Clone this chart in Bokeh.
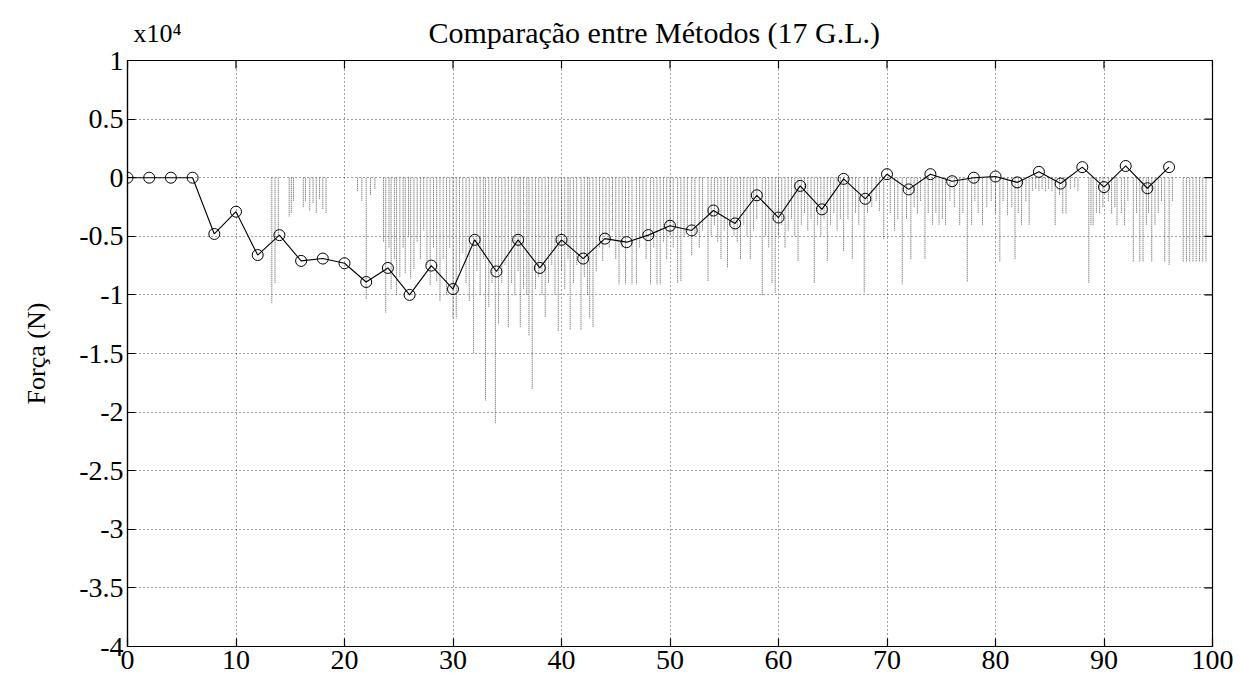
import math
from bokeh.plotting import figure
from bokeh.models import Range1d, FixedTicker, CustomJSTickFormatter, Label
from bokeh.embed import file_html
from bokeh.resources import INLINE

title_text = "Comparação entre Métodos (17 G.L.)"
y_label = "Força (N)"
exp_label = "x10⁴"

x_ticks = [0, 10, 20, 30, 40, 50, 60, 70, 80, 90, 100]
y_ticks = [-4, -3.5, -3, -2.5, -2, -1.5, -1, -0.5, 0, 0.5, 1]

# Method 1 (circles, solid line), values in units of 10^4 N
method_x = [0, 2, 4, 6, 8, 10, 12, 14, 16, 18, 20, 22, 24, 26, 28, 30, 32, 34, 36, 38,
            40, 42, 44, 46, 48, 50, 52, 54, 56, 58, 60, 62, 64, 66, 68, 70, 72, 74, 76, 78,
            80, 82, 84, 86, 88, 90, 92, 94, 96]
method_y = [0, 0, 0, 0, -0.48, -0.29, -0.66, -0.49, -0.71, -0.69, -0.73, -0.89, -0.77, -1.00,
            -0.75, -0.95, -0.53, -0.80, -0.53, -0.77, -0.53, -0.69, -0.52, -0.55, -0.49, -0.41,
            -0.45, -0.28, -0.39, -0.15, -0.34, -0.07, -0.27, -0.01, -0.18, 0.03, -0.10, 0.03,
            -0.03, 0.0, 0.01, -0.04, 0.05, -0.05, 0.09, -0.08, 0.10, -0.09, 0.09]

# Method 2 (dotted grey spikes): position and minimum of each spike
spike_x = [13.3, 13.6, 13.9, 14.9, 15.1, 15.3, 16.2, 16.4, 16.8, 17.1, 17.4, 17.7, 18.0, 18.3,
           21.2, 21.6, 22.0, 22.4, 22.8,
           23.6, 23.8, 24.1, 24.3, 24.6, 24.8, 25.1, 25.4, 25.6, 25.9, 26.1, 26.4, 26.7, 27.0,
           27.3, 27.6, 27.9, 28.2, 28.5, 28.8, 29.1, 29.4, 29.7, 30.0, 30.3, 30.6, 30.9, 31.2,
           31.5, 31.9, 32.2, 32.5, 32.8, 33.0, 33.3, 33.6, 33.9, 34.2, 34.5, 34.8, 35.1, 35.4,
           35.7, 36.0, 36.2, 36.5, 36.8, 37.0, 37.3, 37.6, 37.9, 38.2, 38.5, 38.8, 39.1, 39.4,
           39.7, 40.0, 40.3, 40.6, 40.8, 41.1, 41.4, 41.8, 42.1, 42.4, 42.6, 42.9, 43.2, 43.5,
           43.8, 44.1, 44.4, 44.7, 45.0, 45.3, 45.6, 45.9, 46.2, 46.5, 46.9, 47.2, 47.5, 47.8,
           48.2, 48.5, 48.8, 49.1, 49.4, 49.7, 50.0, 50.3, 50.7, 51.0, 51.3, 51.6, 52.0, 52.3,
           52.7, 53.0, 53.5, 53.8, 54.1, 54.4, 54.7, 55.0, 55.3, 55.6, 55.9, 56.2, 56.5, 56.8,
           57.1, 57.4, 57.7, 58.0, 58.5, 58.8, 59.1, 59.4, 59.7, 60.0, 60.3, 60.6, 60.9, 61.2,
           61.5, 61.8, 62.1, 62.4, 62.7, 63.0, 63.3, 63.6, 63.9, 64.2, 64.5, 64.8, 65.1, 65.4,
           65.7, 66.0, 66.4, 66.8, 67.1, 67.4, 67.9, 68.2, 68.6, 69.0, 69.3, 69.7, 70.3, 70.7,
           71.0, 71.4, 71.8, 72.2, 72.5, 72.8, 73.1, 73.5, 73.8, 74.2, 74.5, 74.8, 75.1, 75.4,
           75.8, 76.2, 76.7, 77.0, 77.4, 77.8, 78.1, 78.4, 78.8, 79.2, 79.6, 80.0, 80.4, 80.7,
           81.1, 81.5, 81.8, 82.1, 82.4, 82.8, 83.1, 83.4, 83.7, 84.0, 84.3, 84.6, 84.9, 85.2,
           85.5, 85.9, 86.2, 86.5, 86.9, 87.3, 87.6, 88.6, 88.8, 89.0, 89.3, 89.6, 89.9, 90.4,
           90.7, 91.0, 91.2, 91.6, 91.9, 92.2, 92.7, 93.0, 93.3, 93.6, 93.9, 94.1, 94.4, 94.7,
           95.0, 95.3, 95.6, 96.0, 96.3, 97.3, 97.6, 97.9, 98.2, 98.5, 98.8, 99.1, 99.4]
spike_y = [-1.07, -0.9, -0.5, -0.33, -0.3, -0.2, -0.25, -0.2, -0.28, -0.22, -0.3, -0.18, -0.27, -0.3,
           -0.12, -0.2, -1.04, -0.15, -0.1,
           -0.55, -1.15, -0.6, -0.95, -0.7, -1.0, -0.85, -0.6, -0.82, -0.5, -0.86, -0.78, -0.55, -0.7,
           -0.45, -0.75, -0.92, -0.6, -0.88, -1.05, -0.7, -1.0, -0.6, -1.2, -1.2, -0.8, -0.65, -0.9,
           -1.05, -1.5, -0.8, -1.0, -0.7, -1.9, -1.1, -0.9, -2.1, -1.25, -0.9, -0.75, -1.28, -0.9,
           -1.0, -0.8, -1.28, -0.95, -1.0, -1.35, -1.8, -0.95, -0.85, -1.0, -1.19, -0.9, -0.75, -1.0,
           -1.31, -0.8, -0.95, -0.7, -1.3, -0.9, -0.75, -1.3, -0.85, -1.0, -1.2, -1.28, -0.8, -0.6,
           -0.71, -0.5, -0.6, -0.45, -0.7, -0.91, -0.6, -0.91, -0.5, -0.91, -0.91, -0.6, -0.5, -0.7,
           -0.91, -0.6, -0.91, -0.91, -0.55, -0.7, -0.5, -0.6, -0.9, -0.88, -0.5, -0.45, -0.66, -0.5,
           -0.6, -0.45, -0.88, -0.5, -0.4, -0.55, -0.7, -0.45, -0.77, -0.4, -0.5, -0.55, -0.7, -0.4,
           -0.5, -0.7, -0.45, -0.35, -1.0, -0.5, -0.6, -0.9, -0.98, -0.5, -0.4, -0.6, -0.45, -0.35,
           -0.5, -0.71, -0.4, -0.3, -0.45, -0.35, -0.9, -0.4, -0.5, -0.35, -0.71, -0.4, -0.3, -0.45,
           -0.35, -0.63, -0.35, -0.69, -0.3, -0.4, -0.98, -0.3, -0.25, -0.2, -0.29, -0.52, -0.3, -0.45,
           -0.35, -0.91, -0.35, -0.70, -0.25, -0.31, -0.2, -0.70, -0.3, -0.40, -0.3, -0.4, -0.35, -0.40,
           -0.2, -0.25, -0.40, -0.3, -0.89, -0.40, -0.2, -0.3, -0.40, -0.25, -0.2, -0.3, -0.72, -0.2,
           -0.32, -0.25, -0.70, -0.3, -0.40, -0.2, -0.40, -0.12, -0.1, -0.12, -0.1, -0.12, -0.1, -0.12,
           -0.41, -0.15, -0.31, -0.31, -0.1, -0.08, -0.12, -0.90, -0.41, -0.41, -0.3, -0.31, -0.25, -0.2,
           -0.31, -0.25, -0.41, -0.3, -0.41, -0.2, -0.72, -0.3, -0.72, -0.72, -0.4, -0.3, -0.72, -0.4,
           -0.3, -0.2, -0.72, -0.75, -0.2, -0.72, -0.72, -0.72, -0.72, -0.72, -0.72, -0.72, -0.72]

FONT = "Liberation Serif"

p = figure(width=1240, height=680, x_range=Range1d(0, 100), y_range=Range1d(-4, 1),
           output_backend="svg", toolbar_location=None,
           min_border_left=127, min_border_right=28, min_border_top=60, min_border_bottom=34)

# title: negative standoff so it shares the top row with the x10^4 multiplier
p.title.text = title_text
p.title.align = "left"
p.title.offset = 301
p.title.standoff = -35
p.title.text_font = FONT
p.title.text_font_style = "normal"
p.title.text_font_size = "30px"
p.title.text_color = "black"

# power-of-ten multiplier, placed in the top margin (canvas pixel units)
p.add_layout(Label(x=133, y=47, x_units="canvas", y_units="canvas", text=exp_label,
                   text_font=FONT, text_font_size="26px", text_color="black",
                   text_baseline="bottom", text_align="left"), "above")

fmt = CustomJSTickFormatter(code="return String(tick)")

for ax, ticks in ((p.xaxis[0], x_ticks), (p.yaxis[0], y_ticks)):
    ax.ticker = FixedTicker(ticks=ticks)
    ax.formatter = fmt
    ax.major_tick_in = 8
    ax.major_tick_out = 0
    ax.minor_tick_in = 0
    ax.minor_tick_out = 0
    ax.axis_line_color = "black"
    ax.axis_line_width = 1.2
    ax.major_tick_line_color = "black"
    ax.major_tick_line_width = 1.2
    ax.major_label_text_font = FONT
    ax.major_label_text_font_size = "28px"
    ax.major_label_text_color = "black"
    ax.major_label_standoff = 4

p.yaxis.axis_label = y_label
p.yaxis.axis_label_text_font = FONT
p.yaxis.axis_label_text_font_style = "normal"
p.yaxis.axis_label_text_font_size = "26px"
p.yaxis.axis_label_text_color = "black"
p.yaxis.axis_label_standoff = 25

p.xgrid.ticker = FixedTicker(ticks=x_ticks)
p.ygrid.ticker = FixedTicker(ticks=y_ticks)
for g in (p.xgrid[0], p.ygrid[0]):
    g.grid_line_color = "black"
    g.grid_line_alpha = 0.75
    g.grid_line_dash = "1 3"
    g.grid_line_width = 1

p.outline_line_color = "black"
p.outline_line_width = 1.2
p.background_fill_color = "white"
p.border_fill_color = "white"

zeros = [0] * len(spike_x)
p.segment(x0=spike_x, y0=zeros, x1=spike_x, y1=spike_y,
          line_color="#555555", line_width=1, line_dash="1 1")

p.line(method_x, method_y, line_color="black", line_width=1.1)
p.scatter(method_x, method_y, marker="circle", size=11, fill_color=None,
          line_color="black", line_width=1)

# inward ticks on the right and top edges of the box (half of each dash is clipped)
x_max = p.x_range.end
y_max = p.y_range.end
p.scatter([x_max] * len(y_ticks), y_ticks, marker="dash", size=16,
          line_color="black", line_width=1.2)
p.scatter(x_ticks, [y_max] * len(x_ticks), marker="dash", size=16, angle=math.pi / 2,
          line_color="black", line_width=1.2)

open("out.html", "w").write(file_html(p, INLINE))
